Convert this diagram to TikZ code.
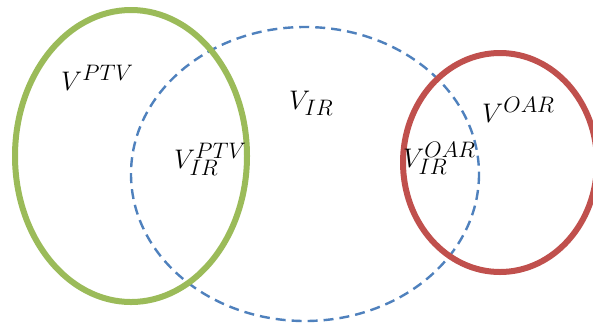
\documentclass[tikz,border=0pt]{standalone}
\usepackage{graphicx}
\definecolor{ptvgreen}{HTML}{9BBB59}
\definecolor{irblue}{HTML}{4F81BD}
\definecolor{oarred}{HTML}{C0504D}
\newcommand{\biglbl}[1]{\scalebox{1.08}{$#1$}}
\begin{document}
\begin{tikzpicture}[x=1pt,y=-1pt,
  lbl/.style={anchor=base west,inner sep=0pt,font=\fontsize{24.88}{30}\selectfont},
  ptv/.style={draw=ptvgreen,line width=6pt},
  oar/.style={draw=oarred,line width=6pt},
  irr/.style={draw=irblue,line width=2.4pt,dash pattern=on 10pt off 6pt}]
\useasboundingbox (0,0) rectangle (593,325);
\clip (0,0) rectangle (593,325);
\fill[white] (0,0) rectangle (593,325);
\draw[irr] (305,174) ellipse [x radius=174,y radius=147];
\draw[ptv] (131,156) ellipse [x radius=116,y radius=146];
\draw[oar] (500,162.5) ellipse [x radius=97,y radius=109.5];
\node[lbl] (vptv) at (61,90) {\biglbl{V^{PTV}}};
\node[lbl] (vir) at (289,109) {\biglbl{V_{IR}}};
\node[lbl] (virptv) at (174,168) {\biglbl{V_{IR}^{PTV}}};
\node[lbl] (viroar) at (403,167) {\biglbl{V_{IR}^{OAR}}};
\node[lbl] (voar) at (482,122) {\biglbl{V^{OAR}}};
\end{tikzpicture}
\end{document}
